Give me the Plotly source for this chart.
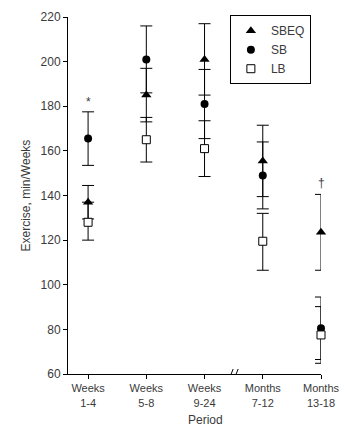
import plotly.graph_objects as go

periods = ["Weeks<br>1-4", "Weeks<br>5-8", "Weeks<br>9-24", "Months<br>7-12", "Months<br>13-18"]
xpos = [0, 1, 2, 3, 4]

sbeq = [137, 185, 201, 155.5, 123.5]
sbeq_err = [7.5, 12, 16, 16, 17]
sb = [165.5, 201, 181, 149, 80.5]
sb_err = [12, 15, 15.5, 15, 14]
lb = [128, 165, 161, 119.5, 77.5]
lb_err_plus = [9, 10, 12.5, 12.5, 12.7]
lb_err_minus = [8, 10, 12.5, 13, 12.7]

annot_text = ["*", "†"]
annot_x = [0, 4]
annot_y = [182, 145.5]

font_fam = "Liberation Sans, Arial, Helvetica, sans-serif"
gray = "#3a3a3a"

W, H = 347, 434
ML, MR, MT, MB = 68, 26, 17, 60

fig = go.Figure()

# error bars first (beneath all markers)
for y, ep, em in [(sbeq, sbeq_err, sbeq_err), (sb, sb_err, sb_err), (lb, lb_err_plus, lb_err_minus)]:
    fig.add_trace(go.Scatter(
        x=xpos, y=y, mode="markers", marker=dict(size=1, opacity=0),
        error_y=dict(type="data", array=ep, arrayminus=em, symmetric=False,
                     color="black", thickness=1, width=6),
        showlegend=False, hoverinfo="skip", cliponaxis=False))

fig.add_trace(go.Scatter(x=xpos, y=sbeq, mode="markers", name="SBEQ", cliponaxis=False,
                         marker=dict(symbol="triangle-up", size=9, color="black")))
fig.add_trace(go.Scatter(x=xpos, y=sb, mode="markers", name="SB", cliponaxis=False,
                         marker=dict(symbol="circle", size=8, color="black")))
fig.add_trace(go.Scatter(x=xpos, y=lb, mode="markers", name="LB", cliponaxis=False,
                         marker=dict(symbol="square", size=8, color="white",
                                     line=dict(color="black", width=1))))

for t, ax, ay in zip(annot_text, annot_x, annot_y):
    fig.add_annotation(x=ax, y=ay, text=t, showarrow=False,
                       font=dict(size=12, color=gray, family=font_fam))

# axis titles as annotations (fixed positions)
pw = W - ML - MR
ph = H - MT - MB
fig.add_annotation(xref="paper", yref="paper", x=(205 - ML) / pw, y=-(420 - (H - MB)) / ph,
                   text="Period", showarrow=False, xanchor="center", yanchor="middle",
                   font=dict(size=12, color=gray, family=font_fam))
fig.add_annotation(xref="paper", yref="paper", x=-(ML - 25) / pw, y=0.5,
                   text="Exercise, min/Weeks", showarrow=False, textangle=-90,
                   xanchor="center", yanchor="middle",
                   font=dict(size=12, color=gray, family=font_fam))

# axis break marks
fig.add_shape(type="rect", xref="x", yref="y", xsizemode="pixel", ysizemode="pixel",
              xanchor=2.5, yanchor=60, x0=-2.5, x1=2.5, y0=-1.5, y1=1.5,
              fillcolor="white", line=dict(width=0), layer="above")
for dx in (-2.5, 2.5):
    fig.add_shape(type="line", xref="x", yref="y", xsizemode="pixel", ysizemode="pixel",
                  xanchor=2.5, yanchor=60, x0=dx - 2, x1=dx + 2, y0=-5, y1=5,
                  line=dict(color="black", width=1), layer="above")

fig.update_layout(
    width=W, height=H,
    margin=dict(l=ML, r=MR, t=MT, b=MB),
    paper_bgcolor="white", plot_bgcolor="white",
    font=dict(family=font_fam, size=11, color=gray),
    legend=dict(x=0.96, y=1.005, xanchor="right", yanchor="top",
                bordercolor="black", borderwidth=1, bgcolor="white",
                font=dict(size=12, color=gray, family=font_fam),
                itemwidth=30, tracegroupgap=0),
    xaxis=dict(range=[-0.345, 4.0], tickvals=xpos, ticktext=periods,
               showgrid=False, zeroline=False, showline=True, linecolor="black",
               linewidth=1, ticks="outside", ticklen=4, tickcolor="black",
               automargin=False, tickfont=dict(size=11, color=gray)),
    yaxis=dict(range=[60, 220], tickvals=[60, 80, 100, 120, 140, 160, 180, 200, 220],
               showgrid=False, zeroline=False, showline=True, linecolor="black",
               linewidth=1, ticks="outside", ticklen=4, tickcolor="black",
               automargin=False, tickfont=dict(size=12, color=gray)),
)

fig.write_html("out.html")
